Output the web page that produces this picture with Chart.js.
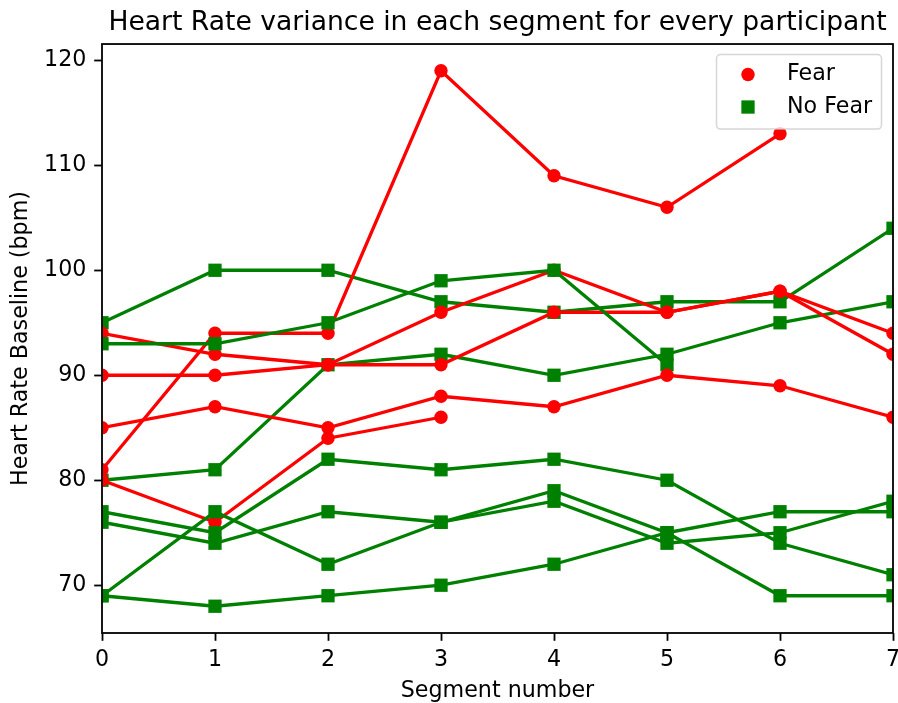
<!DOCTYPE html>
<html>
<head>
<meta charset="utf-8">
<title>Heart Rate variance</title>
<script src="https://cdn.jsdelivr.net/npm/chart.js@4.4.0/dist/chart.umd.min.js"></script>
<style>
  html, body { margin: 0; padding: 0; background: #ffffff; }
  canvas { display: block; }
</style>
</head>
<body>
<canvas id="chart" width="898" height="703"></canvas>
<script>
// Segment indices along the x axis
const segments = [0, 1, 2, 3, 4, 5, 6, 7];
// Heart-rate axis tick labels
const yTicks = [70, 80, 90, 100, 110, 120];
// Group names shown in the legend
const groupNames = ['Fear', 'No Fear'];

// Heart rate baseline (bpm) per segment, participants in the "Fear" group
const fear1 = [81, 94, 94, 119, 109, 106, 113];
const fear2 = [94, 92, 91, 91, 96, 96, 98, 92];
const fear3 = [90, 90, 91, 96, 100, 96, 98, 94];
const fear4 = [85, 87, 85, 88, 87, 90, 89, 86];
const fear5 = [80, 76, 84, 86];

// Heart rate baseline (bpm) per segment, participants in the "No Fear" group
const noFear1 = [95, 100, 100, 97, 96, 97, 97, 104];
const noFear2 = [93, 93, 95, 99, 100, 91];
const noFear3 = [80, 81, 91, 92, 90, 92, 95, 97];
const noFear4 = [77, 75, 82, 81, 82, 80, 74, 71];
const noFear5 = [76, 74, 77, 76, 79, 75, 77, 77];
const noFear6 = [69, 77, 72, 76, 78, 74, 75, 78];
const noFear7 = [69, 68, 69, 70, 72, 75, 69, 69];

const FONT = 'DejaVu Sans';
const TEXT_COLOR = '#000000';
const FEAR_COLOR = '#ff0000';
const NOFEAR_COLOR = '#008000';

// Drawing sequence, bottom-most first
const series = [
  { values: noFear1, group: 1 },
  { values: noFear3, group: 1 },
  { values: fear1, group: 0 },
  { values: fear2, group: 0 },
  { values: fear3, group: 0 },
  { values: noFear2, group: 1 },
  { values: fear4, group: 0 },
  { values: fear5, group: 0 },
  { values: noFear4, group: 1 },
  { values: noFear5, group: 1 },
  { values: noFear6, group: 1 },
  { values: noFear7, group: 1 }
];

// y limits with a 5% margin around the data, as the plotting default does
const allValues = series.flatMap(s => s.values);
const dataMin = Math.min(...allValues);
const dataMax = Math.max(...allValues);
const margin = (dataMax - dataMin) * 0.05;

const datasets = series.map((s, i) => {
  const color = s.group === 0 ? FEAR_COLOR : NOFEAR_COLOR;
  return {
    label: groupNames[s.group],
    data: s.values.map((v, k) => ({ x: segments[k], y: v })),
    borderColor: color,
    backgroundColor: color,
    borderWidth: 3.3,
    pointStyle: s.group === 0 ? 'circle' : 'rect',
    pointRadius: s.group === 0 ? 6.7 : 9.4,
    pointBorderWidth: 0,
    pointBackgroundColor: color,
    pointHoverRadius: s.group === 0 ? 6.7 : 9.4,
    tension: 0,
    fill: false,
    clip: 0,
    order: series.length - i
  };
});

// Full rectangular frame around the plotting area
const framePlugin = {
  id: 'frame',
  afterDatasetsDraw(chart) {
    const { ctx, chartArea: a } = chart;
    ctx.save();
    ctx.strokeStyle = '#000000';
    ctx.lineWidth = 1.8;
    ctx.strokeRect(a.left, a.top, a.right - a.left, a.bottom - a.top);
    ctx.restore();
  }
};

// Boxed legend in the upper right corner of the plotting area
const boxLegendPlugin = {
  id: 'boxLegend',
  afterDraw(chart) {
    const { ctx, chartArea: a } = chart;
    const x0 = a.right - 176.5, y0 = a.top + 10.5, w = 165, h = 74.5, r = 4;
    ctx.save();
    ctx.beginPath();
    ctx.moveTo(x0 + r, y0);
    ctx.arcTo(x0 + w, y0, x0 + w, y0 + h, r);
    ctx.arcTo(x0 + w, y0 + h, x0, y0 + h, r);
    ctx.arcTo(x0, y0 + h, x0, y0, r);
    ctx.arcTo(x0, y0, x0 + w, y0, r);
    ctx.closePath();
    ctx.fillStyle = 'rgba(255,255,255,0.8)';
    ctx.fill();
    ctx.strokeStyle = 'rgba(204,204,204,0.8)';
    ctx.lineWidth = 1.5;
    ctx.stroke();

    const mx = x0 + 31.5;
    const rows = [y0 + 20, y0 + 52.5];
    // Fear marker: circle
    ctx.fillStyle = FEAR_COLOR;
    ctx.beginPath();
    ctx.arc(mx, rows[0], 6.7, 0, Math.PI * 2);
    ctx.fill();
    // No Fear marker: square
    ctx.fillStyle = NOFEAR_COLOR;
    ctx.fillRect(mx - 6.65, rows[1] - 6.65, 13.3, 13.3);

    ctx.fillStyle = TEXT_COLOR;
    ctx.font = '22.2px "' + FONT + '"';
    ctx.textAlign = 'left';
    ctx.textBaseline = 'middle';
    ctx.fillText(groupNames[0], x0 + 70.5, rows[0]);
    ctx.fillText(groupNames[1], x0 + 70.5, rows[1]);
    ctx.restore();
  }
};

const tickFont = { family: FONT, size: 22.2, weight: 'normal', lineHeight: 1.2 };

new Chart(document.getElementById('chart'), {
  type: 'line',
  data: { datasets },
  plugins: [framePlugin, boxLegendPlugin],
  options: {
    responsive: false,
    devicePixelRatio: 1,
    animation: false,
    events: [],
    layout: { autoPadding: false, padding: { top: 0, right: 5, bottom: 0, left: 0 } },
    plugins: {
      legend: { display: false },
      tooltip: { enabled: false },
      title: {
        display: true,
        text: 'Heart Rate variance in each segment for every participant',
        fullSize: false,
        color: TEXT_COLOR,
        font: { family: FONT, size: 26.6, weight: 'normal', lineHeight: 1.2 },
        padding: { top: 6.8, bottom: 5.3 }
      }
    },
    scales: {
      x: {
        type: 'linear',
        min: segments[0],
        max: segments[segments.length - 1],
        afterBuildTicks: s => { s.ticks = segments.map(v => ({ value: v })); },
        afterFit: s => { s.height = 70; s.paddingLeft = 0; s.paddingRight = 0; },
        border: { display: false },
        grid: { display: true, drawOnChartArea: false, drawTicks: true, tickLength: 7.8, tickWidth: 1.8, tickColor: '#000000' },
        ticks: { color: TEXT_COLOR, font: tickFont, padding: 6, maxRotation: 0, autoSkip: false },
        title: { display: true, text: 'Segment number', color: TEXT_COLOR, font: tickFont, padding: { top: 0, bottom: -2 } }
      },
      y: {
        type: 'linear',
        min: dataMin - margin,
        max: dataMax + margin,
        afterBuildTicks: s => { s.ticks = yTicks.map(v => ({ value: v })); },
        afterFit: s => { s.width = 102; s.paddingTop = 0; s.paddingBottom = 0; },
        border: { display: false },
        grid: { display: true, drawOnChartArea: false, drawTicks: true, tickLength: 7.8, tickWidth: 1.8, tickColor: '#000000' },
        ticks: { color: TEXT_COLOR, font: tickFont, padding: 7.8 },
        title: { display: true, text: 'Heart Rate Baseline (bpm)', color: TEXT_COLOR, font: tickFont, padding: { top: 8.2, bottom: 0 } }
      }
    }
  }
});
</script>
</body>
</html>
